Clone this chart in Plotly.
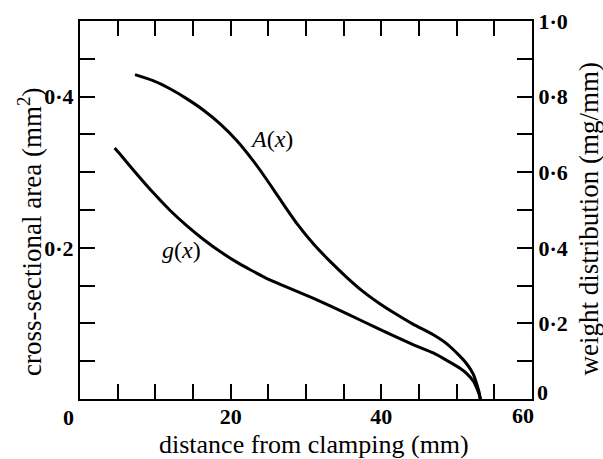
import plotly.graph_objects as go

# Data
A_x = [7.3, 9.7, 12.0, 14.2, 16.4, 18.6, 20.8, 23.0, 24.8, 26.5, 28.8, 31.0, 33.2, 35.4, 37.6, 39.8, 42.0, 44.2, 46.9, 48.7, 50.4, 51.3, 52.2, 52.6, 53.0, 53.1]
A_y = [0.429, 0.421, 0.410, 0.397, 0.382, 0.364, 0.342, 0.315, 0.290, 0.265, 0.232, 0.205, 0.182, 0.161, 0.142, 0.126, 0.112, 0.099, 0.085, 0.073, 0.057, 0.047, 0.033, 0.022, 0.008, 0.0]
g_x = [4.6, 5.3, 7.5, 9.7, 12.0, 14.2, 16.4, 18.6, 20.8, 22.6, 24.5, 26.5, 31.0, 35.4, 39.8, 44.2, 46.9, 48.7, 50.4, 51.3, 52.2, 52.6, 53.0, 53.2]
g_y = [0.332, 0.324, 0.298, 0.273, 0.249, 0.229, 0.211, 0.195, 0.181, 0.171, 0.161, 0.152, 0.133, 0.113, 0.092, 0.072, 0.061, 0.051, 0.041, 0.034, 0.024, 0.016, 0.006, 0.0]

x_ticks = [0, 5, 10, 15, 20, 25, 30, 35, 40, 45, 50, 55, 60]
x_labels = {20: "20", 40: "40"}
y_ticks = [0, 0.05, 0.1, 0.15, 0.2, 0.25, 0.3, 0.35, 0.4, 0.45, 0.5]
y_labels = {0.2: "0·2", 0.4: "0·4"}
y2_ticks = [0, 0.1, 0.2, 0.3, 0.4, 0.5, 0.6, 0.7, 0.8, 0.9, 1.0]
y2_labels = {0.2: "0·2", 0.4: "0·4", 0.6: "0·6", 0.8: "0·8", 1.0: "1·0"}

x_title = "distance from clamping (mm)"
y_title = "cross-sectional area (mm<sup>2</sup>)"
y2_title = "weight distribution (mg/mm)"

FONT = "Liberation Serif"
LINE = dict(color="black", width=3, shape="spline", smoothing=0.6)

fig = go.Figure()
fig.add_trace(go.Scatter(x=A_x, y=A_y, mode="lines", line=LINE, showlegend=False))
fig.add_trace(go.Scatter(x=g_x, y=g_y, mode="lines", line=LINE, showlegend=False))
# invisible trace for right axis
fig.add_trace(go.Scatter(x=[0], y=[0], yaxis="y2", mode="markers", marker=dict(opacity=0),
                         showlegend=False, hoverinfo="skip"))

tickfont = dict(family=FONT, size=22, color="black", weight="bold")
titlefont = dict(family=FONT, size=26, color="black")
axis_common = dict(ticks="inside", ticklen=15, tickwidth=1.5, tickcolor="black",
                   showline=True, linecolor="black", linewidth=2,
                   showgrid=False, zeroline=False, tickfont=tickfont, automargin=False)

fig.update_layout(
    width=603, height=459,
    margin=dict(l=80, r=71, t=21, b=60),
    paper_bgcolor="white", plot_bgcolor="white",
    xaxis=dict(range=[0, 60], tickvals=x_ticks, ticktext=[x_labels.get(v, "") for v in x_ticks],
               mirror="ticks", ticklabelstandoff=-3, **axis_common),
    yaxis=dict(range=[0, 0.5], tickvals=y_ticks, ticktext=[y_labels.get(v, "") for v in y_ticks],
               **axis_common),
    yaxis2=dict(range=[0, 1.0], overlaying="y", side="right", tickvals=y2_ticks,
                ticktext=[y2_labels.get(v, "") for v in y2_ticks], **axis_common),
)

# axis titles
fig.add_annotation(x=0.518, y=-0.121, xref="paper", yref="paper", text=x_title, showarrow=False,
                   xanchor="center", yanchor="middle", font=titlefont)
fig.add_annotation(x=-0.112, y=0.443, xref="paper", yref="paper", text=y_title, showarrow=False,
                   xanchor="center", yanchor="middle", textangle=-90, font=dict(family=FONT, size=27, color="black"))
fig.add_annotation(x=1.126, y=0.4775, xref="paper", yref="paper", text=y2_title, showarrow=False,
                   xanchor="center", yanchor="middle", textangle=-90, font=dict(family=FONT, size=27, color="black"))

# corner labels
fig.add_annotation(x=0, y=0, xref="x", yref="y", text="0", showarrow=False, xanchor="center", yanchor="top",
                   xshift=-12, yshift=-4, font=tickfont)
fig.add_annotation(x=60, y=0, xref="x", yref="y", text="60", showarrow=False, xanchor="center", yanchor="top",
                   xshift=-9, yshift=-2, font=tickfont)
fig.add_annotation(x=60, y=0, xref="x", yref="y", text="0", showarrow=False, xanchor="left", yanchor="middle",
                   xshift=3, yshift=7, font=tickfont)

# curve labels
fig.add_annotation(x=25.4, y=0.344, xref="x", yref="y", text="<i>A</i>(<i>x</i>)", showarrow=False,
                   font=dict(family=FONT, size=24, color="black"))
fig.add_annotation(x=13.5, y=0.197, xref="x", yref="y", text="<i>g</i>(<i>x</i>)", showarrow=False,
                   font=dict(family=FONT, size=24, color="black"))

fig.write_html("out.html")
